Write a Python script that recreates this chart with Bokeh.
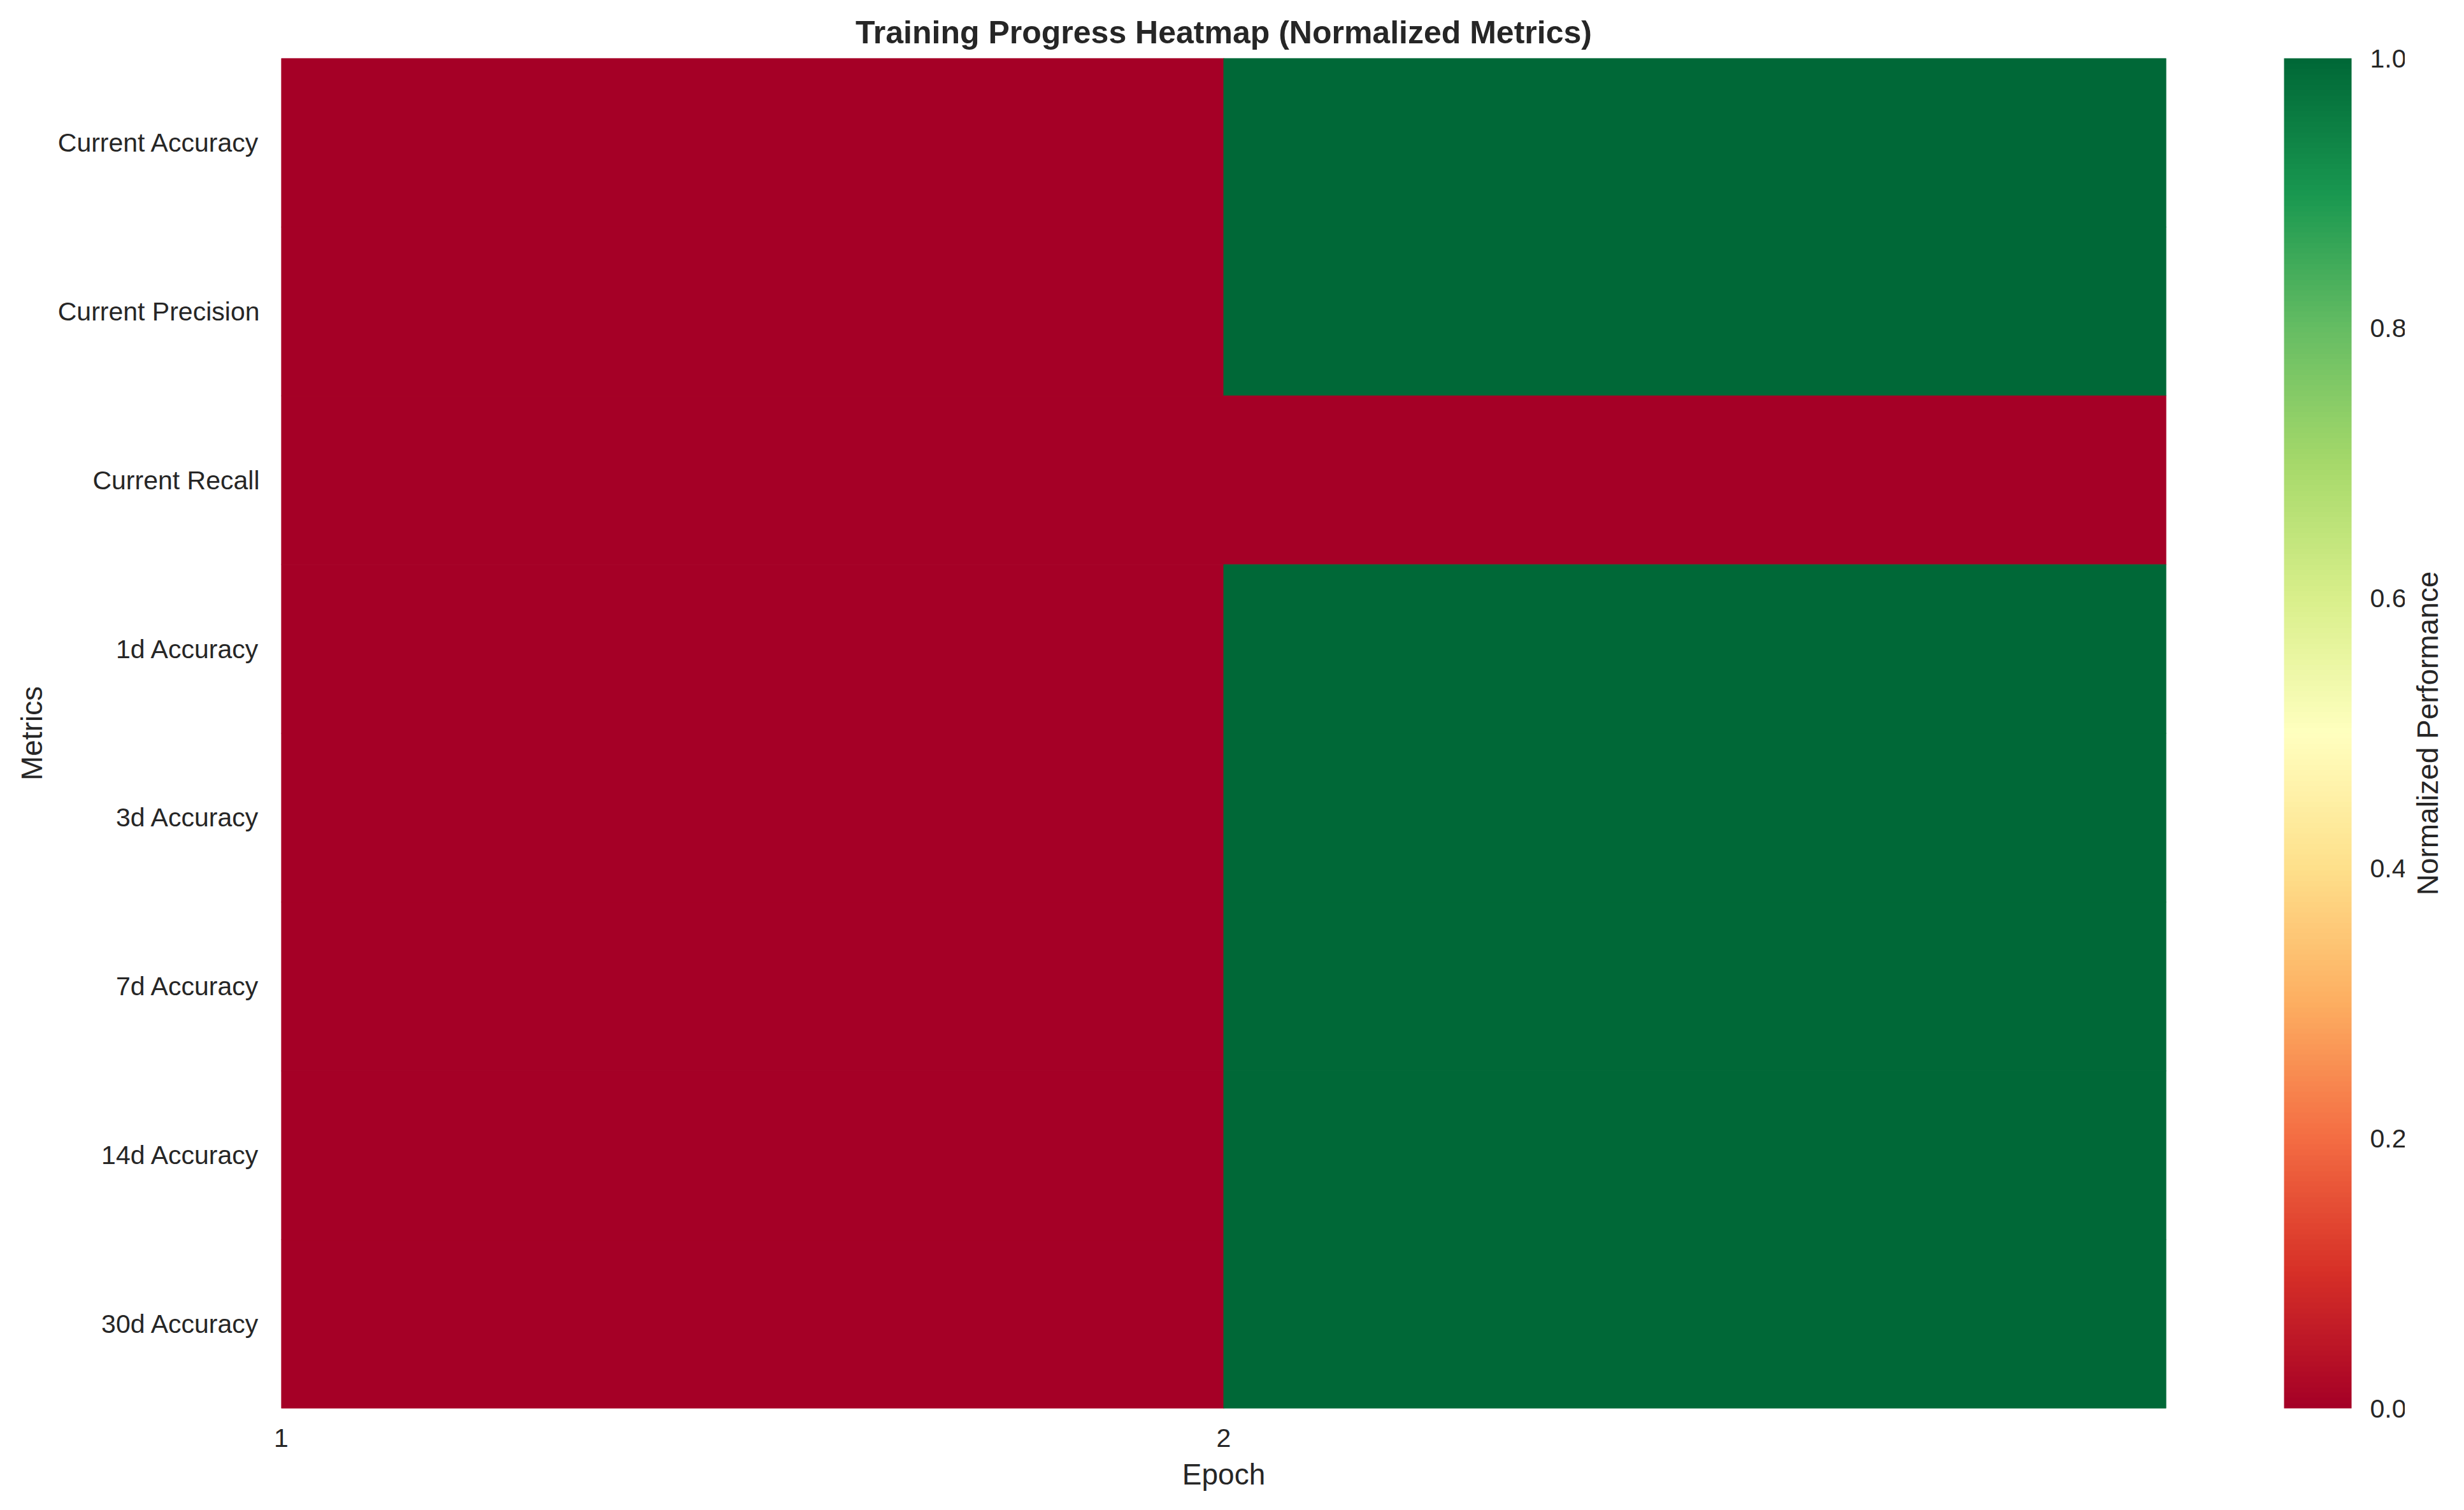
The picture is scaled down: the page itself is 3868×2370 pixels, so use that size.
import math
import numpy as np
from bokeh.plotting import figure
from bokeh.layouts import row
from bokeh.models import (ColumnDataSource, Range1d, FactorRange, FixedTicker,
                          LinearColorMapper, ColorBar)
from bokeh.core.properties import value
from bokeh.embed import file_html
from bokeh.resources import INLINE

# ---- data ----
metrics = ["Current Accuracy", "Current Precision", "Current Recall", "1d Accuracy",
           "3d Accuracy", "7d Accuracy", "14d Accuracy", "30d Accuracy"]
epochs = [1, 2]
epoch1_values = [0, 0, 0, 0, 0, 0, 0, 0]
epoch2_values = [1, 1, 0, 1, 1, 1, 1, 1]
cbar_ticks = [0.0, 0.2, 0.4, 0.6, 0.8, 1.0]
cbar_title = "Normalized Performance"

# ---- colormap (RdYlGn brewer anchors) ----
anchors = ['#a50026', '#d73027', '#f46d43', '#fdae61', '#fee08b', '#ffffbf',
           '#d9ef8b', '#a6d96a', '#66bd63', '#1a9850', '#006837']
def hex2rgb(h):
    return np.array([int(h[i:i + 2], 16) for i in (1, 3, 5)], dtype=float)
arr = np.array([hex2rgb(h) for h in anchors])
pos = np.linspace(0, 1, len(anchors))
t = np.linspace(0, 1, 256)
palette = []
for tt in t:
    rgb = [np.interp(tt, pos, arr[:, k]) for k in range(3)]
    palette.append('#%02x%02x%02x' % tuple(int(round(c)) for c in rgb))

mapper = LinearColorMapper(palette=palette, low=0, high=1)

xs, ys, vals = [], [], []
for ep, col in zip(epochs, [epoch1_values, epoch2_values]):
    for m, v in zip(metrics, col):
        xs.append(ep + 0.5)
        ys.append(m)
        vals.append(v)
src = ColumnDataSource(dict(x=xs, y=ys, v=vals))

TXT = "#262626"
FONT = "Liberation Sans"
MAIN_W = 3775
SIDE_W = 3868 - MAIN_W

p = figure(width=MAIN_W, height=2370,
           x_range=Range1d(epochs[0], epochs[-1] + 1),
           y_range=FactorRange(factors=list(reversed(metrics))),
           output_backend="svg", toolbar_location=None,
           min_border_left=441, min_border_top=91, min_border_bottom=160,
           min_border_right=MAIN_W - 3400,
           title="Training Progress Heatmap (Normalized Metrics)")
p.rect(x='x', y='y', width=1, height=1, source=src,
       fill_color={'field': 'v', 'transform': mapper},
       line_color={'field': 'v', 'transform': mapper}, line_width=1)

p.title.align = "center"
p.title.text_font = FONT
p.title.text_font_size = "50px"
p.title.text_font_style = "bold"
p.title.text_color = TXT
p.title.standoff = 26

p.xgrid.grid_line_color = None
p.ygrid.grid_line_color = None
p.outline_line_color = None

for ax in (p.xaxis[0], p.yaxis[0]):
    ax.axis_line_color = None
    ax.major_tick_line_color = None
    ax.minor_tick_line_color = None
    ax.major_label_text_font = FONT
    ax.major_label_text_font_size = "41px"
    ax.major_label_text_color = TXT
    ax.axis_label_text_font = FONT
    ax.axis_label_text_font_size = "46px"
    ax.axis_label_text_font_style = "normal"
    ax.axis_label_text_color = TXT

p.xaxis.ticker = FixedTicker(ticks=epochs)
p.xaxis.axis_label = "Epoch"
p.xaxis.major_label_standoff = 26
p.xaxis.axis_label_standoff = 14
p.yaxis.axis_label = "Metrics"
p.yaxis.major_label_standoff = 28
p.yaxis.axis_label_standoff = 12

cb = ColorBar(color_mapper=mapper, width=106, height=2119,
              ticker=FixedTicker(ticks=cbar_ticks),
              major_label_overrides={tk: "%.1f" % tk for tk in cbar_ticks},
              major_tick_line_color=None, minor_tick_line_color=None,
              bar_line_color=None, border_line_color=None,
              background_fill_color=None, background_fill_alpha=0,
              major_label_text_font=FONT, major_label_text_font_size="41px",
              major_label_text_color=TXT, label_standoff=29,
              padding=0, margin=0, location=(3144, 0))
p.add_layout(cb)

# ---- narrow side figure carrying the colour-bar title ----
s = figure(width=SIDE_W, height=2370, x_range=Range1d(0, 1), y_range=Range1d(0, 1),
           output_backend="svg", toolbar_location=None,
           x_axis_location=None, y_axis_location=None,
           min_border_left=0, min_border_right=0,
           min_border_top=91, min_border_bottom=160)
s.xgrid.grid_line_color = None
s.ygrid.grid_line_color = None
s.outline_line_color = None
s.text(x=[0.38], y=[0.5], text=[cbar_title], angle=math.pi / 2,
       text_align="center", text_baseline="middle",
       text_font=value(FONT), text_font_size="46px", text_color=TXT)

layout = row(p, s, spacing=0)
open("out.html", "w").write(file_html(layout, INLINE))
